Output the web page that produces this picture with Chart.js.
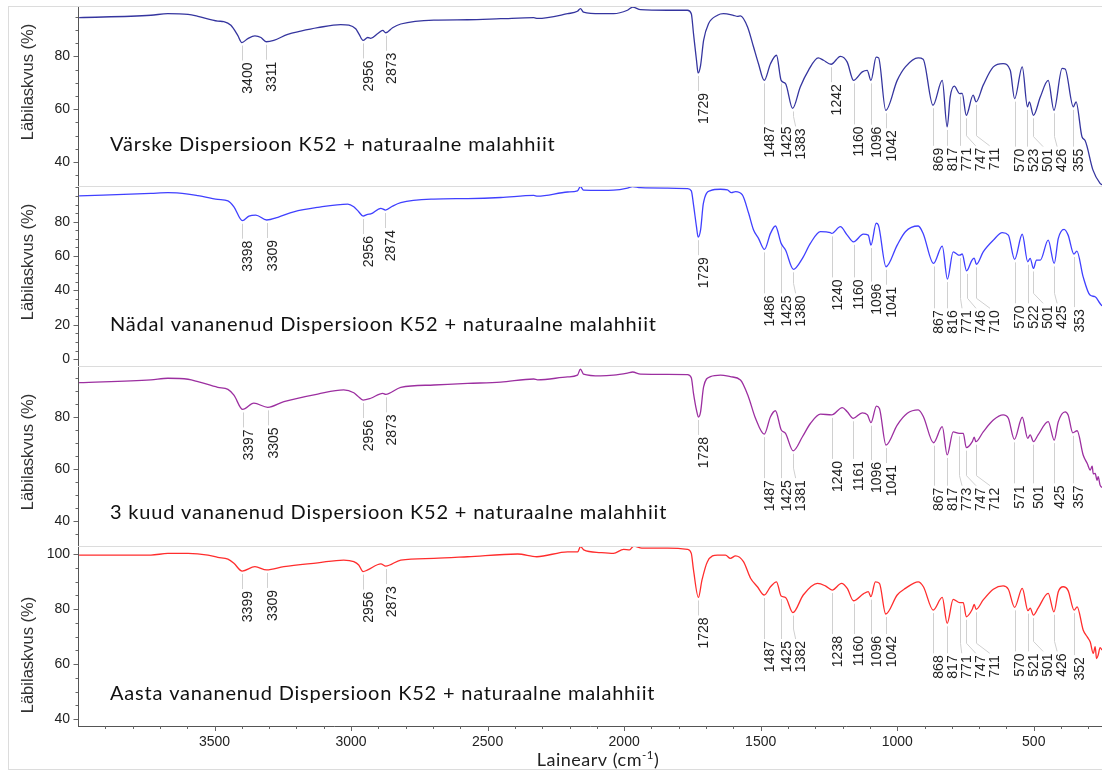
<!DOCTYPE html>
<html>
<head>
<meta charset="utf-8">
<title>FTIR – Dispersioon K52 + naturaalne malahhiit</title>
<script src="https://cdn.jsdelivr.net/npm/chart.js@4.4.1/dist/chart.umd.min.js"></script>
<style>
  html, body { margin: 0; padding: 0; background: #fff; }
  #wrap { position: relative; width: 1102px; height: 771px; overflow: hidden; }
  #frame { position: absolute; left: 8px; top: 6px; width: 1200px; height: 764px;
           box-sizing: border-box; border: 1px solid #dcdcdc; }
  canvas { position: absolute; left: 0; top: 0; }
</style>
</head>
<body>
<div id="wrap">
  <div id="frame"></div>
  <canvas id="p0" width="1102" height="771"></canvas>
  <canvas id="p1" width="1102" height="771"></canvas>
  <canvas id="p2" width="1102" height="771"></canvas>
  <canvas id="p3" width="1102" height="771"></canvas>
</div>
<script>
// ---- tick labels ----
const wavenumberTicks = [3500, 3000, 2500, 2000, 1500, 1000, 500];
const freshTicks  = [40, 60, 80];
const weekTicks   = [0, 20, 40, 60, 80];
const monthsTicks = [40, 60, 80];
const yearTicks   = [40, 60, 80, 100];

// ---- sample names ----
const sampleTitles = [
  'Värske Dispersioon K52 + naturaalne malahhiit',
  'Nädal vananenud Dispersioon K52 + naturaalne malahhiit',
  '3 kuud vananenud Dispersioon K52 + naturaalne malahhiit',
  'Aasta vananenud Dispersioon K52 + naturaalne malahhiit'
];

// ---- spectra: [wavenumber cm-1, transmittance %] ----
const freshSpectrum = [[3996,94.6],[3733,95.5],[3671,96.1],[3597,95.8],[3561,95.1],[3488,93.3],[3466,93.1],[3440,91.7],[3415,87.9],[3400,85.2],[3378,86.7],[3352,87.7],[3330,87.1],[3311,85.5],[3283,86.0],[3232,88.3],[3184,89.5],[3122,90.8],[3038,92.0],[3008,91.8],[2983,90.4],[2972,88.6],[2956,86.0],[2939,87.1],[2928,86.8],[2902,88.6],[2884,89.8],[2873,88.9],[2848,90.8],[2818,92.2],[2697,93.7],[2573,93.8],[2452,94.2],[2331,94.6],[2317,94.3],[2207,96.1],[2171,97.0],[2160,98.0],[2149,96.7],[2086,96.1],[2039,96.1],[1988,97.4],[1969,98.6],[1940,97.6],[1841,97.4],[1768,97.4],[1754,96.1],[1746,88.6],[1735,78.5],[1729,73.7],[1720,76.6],[1709,86.0],[1691,92.3],[1658,95.5],[1636,96.1],[1600,95.5],[1585,95.1],[1574,95.3],[1548,91.1],[1526,83.5],[1508,77.2],[1487,70.9],[1464,77.2],[1442,80.4],[1425,70.9],[1409,69.7],[1383,60.3],[1355,68.4],[1325,74.7],[1289,79.4],[1270,78.5],[1242,77.0],[1208,80.0],[1183,77.8],[1160,70.9],[1128,74.1],[1110,74.7],[1096,70.9],[1077,79.7],[1068,79.4],[1042,59.6],[1000,70.9],[970,76.0],[923,79.4],[905,78.9],[869,61.5],[835,70.9],[817,53.3],[806,64.6],[791,68.7],[771,65.9],[762,66.0],[747,57.7],[722,65.3],[711,62.8],[685,69.1],[648,76.0],[612,77.2],[586,74.7],[570,64.0],[542,76.0],[523,60.9],[516,62.8],[501,57.7],[476,64.6],[447,70.9],[426,59.6],[396,75.4],[385,75.2],[355,60.9],[345,62.8],[323,49.5],[312,48.2],[283,37.0],[257,32.0],[250,31.5]];

const weekSpectrum = [[3996,95.0],[3733,96.5],[3671,96.9],[3597,96.1],[3561,95.2],[3488,93.0],[3451,92.2],[3429,88.7],[3398,80.6],[3374,83.3],[3349,83.9],[3309,81.0],[3268,82.6],[3210,85.8],[3122,88.4],[3012,90.3],[2990,88.7],[2972,85.8],[2956,83.3],[2939,84.3],[2928,84.5],[2891,87.8],[2874,86.8],[2848,89.1],[2818,91.1],[2697,93.2],[2573,93.5],[2452,94.1],[2331,95.3],[2317,94.9],[2207,97.3],[2171,98.0],[2160,100.5],[2149,98.4],[2086,98.3],[2039,98.4],[1988,99.6],[1969,100.5],[1940,99.8],[1841,99.6],[1768,99.3],[1754,98.0],[1746,90.0],[1735,77.0],[1729,71.0],[1720,75.2],[1710,90.5],[1684,98.1],[1647,98.9],[1622,98.5],[1607,96.9],[1592,97.5],[1567,95.6],[1544,84.9],[1526,75.2],[1508,70.3],[1486,63.9],[1464,73.2],[1446,77.5],[1425,67.4],[1409,63.5],[1380,52.3],[1347,58.7],[1318,67.4],[1281,74.2],[1245,73.6],[1240,73.2],[1208,77.1],[1183,72.2],[1160,68.3],[1124,72.8],[1106,72.2],[1096,66.4],[1077,79.1],[1069,78.1],[1041,53.8],[1000,66.4],[970,74.2],[923,77.5],[905,73.2],[867,55.7],[835,65.8],[816,46.6],[795,62.5],[776,60.6],[771,60.5],[762,61.2],[746,51.4],[726,57.7],[718,58.8],[710,55.2],[685,62.5],[648,69.3],[615,73.6],[593,72.2],[570,58.1],[542,72.7],[522,56.7],[513,58.7],[501,52.8],[490,57.7],[476,57.7],[447,69.3],[425,55.7],[410,70.3],[389,75.6],[374,72.2],[353,61.2],[342,62.9],[319,47.9],[294,37.3],[275,36.3],[257,32.4],[250,31.0]];

const monthsSpectrum = [[3996,93.1],[3733,94.2],[3671,94.8],[3597,94.4],[3561,93.5],[3488,91.3],[3451,90.5],[3429,88.3],[3397,82.8],[3356,85.2],[3305,83.6],[3246,85.8],[3122,88.7],[3027,90.3],[2990,89.2],[2976,88.0],[2956,86.4],[2928,87.1],[2884,89.0],[2873,88.6],[2818,91.3],[2697,92.2],[2573,92.8],[2452,93.3],[2331,94.5],[2317,94.2],[2207,95.3],[2171,96.0],[2160,98.3],[2149,96.4],[2086,95.7],[2039,96.0],[1988,96.8],[1969,97.2],[1940,96.4],[1841,96.3],[1768,96.2],[1754,95.0],[1746,89.0],[1735,82.5],[1728,79.9],[1720,81.9],[1709,91.5],[1684,95.4],[1647,96.0],[1611,95.4],[1574,94.1],[1545,87.7],[1519,79.4],[1487,73.3],[1464,80.0],[1446,82.3],[1425,75.0],[1409,73.6],[1381,66.9],[1347,72.3],[1318,77.4],[1281,81.0],[1240,80.7],[1201,83.5],[1183,81.9],[1161,79.4],[1128,81.5],[1109,80.7],[1096,77.7],[1076,84.1],[1065,83.2],[1041,69.1],[1000,76.8],[963,81.3],[923,82.6],[904,80.0],[867,70.0],[835,76.2],[817,65.3],[795,74.2],[773,73.6],[758,73.6],[747,68.1],[725,70.4],[718,72.1],[712,70.4],[685,74.2],[648,78.7],[612,80.7],[593,79.4],[571,71.3],[542,79.8],[522,71.7],[513,73.0],[501,70.4],[484,73.0],[447,78.1],[425,71.0],[410,78.1],[385,81.9],[374,80.7],[357,73.8],[341,74.6],[319,65.3],[304,62.0],[293,59.5],[286,61.0],[282,58.0],[275,58.2],[268,55.5],[264,57.0],[257,53.7],[250,52.8]];

const yearSpectrum = [[3996,99.6],[3733,99.6],[3671,100.2],[3597,100.2],[3524,99.6],[3488,98.8],[3451,98.1],[3429,96.6],[3399,93.8],[3352,95.4],[3309,94.2],[3246,95.4],[3122,96.8],[3027,97.8],[2990,97.2],[2972,96.0],[2956,93.6],[2939,94.2],[2891,96.4],[2873,95.6],[2818,97.8],[2697,98.4],[2573,99.0],[2390,100.0],[2320,99.0],[2207,100.8],[2170,100.8],[2160,102.7],[2148,101.5],[2086,100.5],[2039,100.2],[2002,101.7],[1980,101.5],[1965,102.9],[1935,102.1],[1841,102.1],[1768,101.7],[1754,100.2],[1746,94.2],[1728,84.2],[1715,90.5],[1695,97.2],[1658,99.6],[1629,99.6],[1611,98.4],[1592,99.3],[1563,97.2],[1537,91.2],[1512,88.1],[1487,85.1],[1464,88.1],[1442,89.9],[1425,84.7],[1409,84.2],[1382,78.7],[1344,85.1],[1292,89.3],[1263,88.4],[1238,86.9],[1204,89.3],[1183,87.5],[1160,83.0],[1124,85.5],[1106,86.3],[1096,84.5],[1080,89.9],[1065,89.3],[1042,78.2],[1000,85.1],[970,87.5],[923,89.9],[904,88.1],[868,79.6],[835,84.2],[817,74.8],[795,83.5],[771,82.3],[758,82.3],[747,77.2],[725,79.9],[718,81.7],[711,79.9],[685,83.3],[648,87.2],[612,88.4],[593,87.2],[570,80.6],[542,87.5],[521,79.4],[513,80.3],[501,77.8],[484,80.3],[447,85.7],[426,79.0],[410,86.3],[392,88.1],[374,86.7],[352,79.6],[341,80.8],[319,72.4],[304,69.9],[293,68.0],[282,63.9],[275,66.3],[270,62.0],[264,63.3],[257,66.0],[250,65.1]];

// ---- assigned band positions (cm-1) ----
const freshPeaks  = [3400, 3311, 2956, 2873, 1729, 1487, 1425, 1383, 1242, 1160, 1096, 1042, 869, 817, 771, 747, 711, 570, 523, 501, 426, 355];
const weekPeaks   = [3398, 3309, 2956, 2874, 1729, 1486, 1425, 1380, 1240, 1160, 1096, 1041, 867, 816, 771, 746, 710, 570, 522, 501, 425, 353];
const monthsPeaks = [3397, 3305, 2956, 2873, 1728, 1487, 1425, 1381, 1240, 1161, 1096, 1041, 867, 817, 773, 747, 712, 571, 501, 425, 357];
const yearPeaks   = [3399, 3309, 2956, 2873, 1728, 1487, 1425, 1382, 1238, 1160, 1096, 1042, 868, 817, 771, 747, 711, 570, 521, 501, 426, 352];

// ---- page layout and styling ----
const W = 1102, H = 771, AXIS_LEFT = 78, X_AXIS_H = 45;
const SANS = "'Liberation Sans', Arial, sans-serif";
const LABEL_FONT = "14px " + SANS;
const TITLE_FONT = "20px Lato, 'Open Sans', sans-serif";
const panels = [
  { id: 'p0', top: 6,   bottom: 186, min: 31,   max: 99,    color: '#35359f', series: freshSpectrum,  peaks: freshPeaks,  ticks: freshTicks,  title: sampleTitles[0], titleBase: 151, yTitleMid: 82 },
  { id: 'p1', top: 186, bottom: 366, min: -4,   max: 100.8, color: '#4040ff', series: weekSpectrum,   peaks: weekPeaks,   ticks: weekTicks,   title: sampleTitles[1], titleBase: 331, yTitleMid: 262 },
  { id: 'p2', top: 366, bottom: 546, min: 30.3, max: 99.5,  color: '#9c2fa0', series: monthsSpectrum, peaks: monthsPeaks, ticks: monthsTicks, title: sampleTitles[2], titleBase: 519, yTitleMid: 452 },
  { id: 'p3', top: 546, bottom: 726, min: 37.5, max: 102.9, color: '#ff2d2d', series: yearSpectrum,   peaks: yearPeaks,   ticks: yearTicks,   title: sampleTitles[3], titleBase: 700, yTitleMid: 655 }
];

// linear read-out of a spectrum at a given wavenumber
function valueAt(series, wn) {
  for (let i = 0; i < series.length - 1; i++) {
    const [x0, y0] = series[i], [x1, y1] = series[i + 1];
    if (wn <= x0 && wn >= x1) {
      const t = (x0 - wn) / ((x0 - x1) || 1);
      return y0 + t * (y1 - y0);
    }
  }
  return wn > series[0][0] ? series[0][1] : series[series.length - 1][1];
}

// band labels: rotated numbers hanging under each band with grey leader lines
function drawPeakLabels(chart, panel) {
  const { ctx, chartArea } = chart;
  const xs = chart.scales.x, ys = chart.scales.y;
  const curveY = px => ys.getPixelForValue(valueAt(panel.series, xs.getValueForPixel(px)));
  ctx.save();
  ctx.font = LABEL_FONT;
  const items = panel.peaks.map(wn => ({
    text: String(wn),
    len: ctx.measureText(String(wn)).width,
    px: xs.getPixelForValue(wn),
    py: ys.getPixelForValue(valueAt(panel.series, wn))
  })).sort((a, b) => a.px - b.px);

  // spread labels to the right so neighbours do not collide
  let prev = -Infinity;
  items.forEach(it => { it.tx = Math.max(it.px + 6, prev + 14); prev = it.tx; });

  // hang each label clear of the curve underneath it
  items.forEach(it => {
    let low = -Infinity;
    for (let x = Math.min(it.px, it.tx - 9); x <= it.tx + 9; x++) low = Math.max(low, curveY(x));
    it.top = Math.max(it.py + 20, low + 17);
  });

  // crowded groups drop to a common depth
  const groups = [];
  items.forEach((it, i) => {
    if (i && it.tx - items[i - 1].tx < 22) groups[groups.length - 1].push(it);
    else groups.push([it]);
  });
  groups.forEach(g => {
    if (g.length < 2) return;
    const depth = Math.min(...g.map(it => it.top)) + 26;
    g.forEach(it => { it.top = Math.max(it.top, depth); });
  });

  items.forEach(it => {
    it.top = Math.min(it.top, chartArea.bottom - 14 - it.len);

    const ex = it.tx - 6;
    ctx.strokeStyle = '#d0d0d0';
    ctx.lineWidth = 1;
    ctx.beginPath();
    ctx.moveTo(Math.round(it.px) + 0.5, it.py + 3);
    if (Math.abs(ex - it.px) > 1.5) {
      ctx.lineTo(Math.round(it.px) + 0.5, Math.max(it.py + 3, it.top - 12));
      ctx.lineTo(ex + 0.5, it.top - 2);
    } else {
      ctx.lineTo(Math.round(it.px) + 0.5, it.top - 2);
    }
    ctx.stroke();

    ctx.save();
    ctx.translate(it.tx, it.top);
    ctx.rotate(-Math.PI / 2);
    ctx.textAlign = 'right';
    ctx.textBaseline = 'middle';
    ctx.fillStyle = '#222';
    ctx.fillText(it.text, 0, 0);
    ctx.restore();
  });
  ctx.restore();
}

const panelDecor = {
  id: 'panelDecor',
  afterDraw(chart, args, opts) {
    const panel = opts.panel;
    const { ctx, chartArea } = chart;
    const xs = chart.scales.x, ys = chart.scales.y;
    ctx.save();

    // separator along the top of the panel
    ctx.strokeStyle = '#dcdcdc';
    ctx.lineWidth = 1;
    ctx.beginPath();
    ctx.moveTo(chartArea.left, chartArea.top + 0.5);
    ctx.lineTo(chartArea.right, chartArea.top + 0.5);
    ctx.stroke();

    // y tick marks: long at labelled values, short every 5 %
    ctx.strokeStyle = '#666';
    ctx.beginPath();
    for (let v = Math.ceil(panel.min / 5) * 5; v <= panel.max; v += 5) {
      const y = Math.round(ys.getPixelForValue(v)) + 0.5;
      const len = panel.ticks.includes(v) ? 4.5 : 2.5;
      ctx.moveTo(chartArea.left - len, y);
      ctx.lineTo(chartArea.left, y);
    }
    // x tick marks on the bottom panel
    if (opts.last) {
      for (let v = 300; v <= 3900; v += 100) {
        const x = Math.round(xs.getPixelForValue(v)) + 0.5;
        const len = v % 500 === 0 ? 5 : 3;
        ctx.moveTo(x, chartArea.bottom);
        ctx.lineTo(x, chartArea.bottom + len);
      }
    }
    ctx.stroke();

    // sample name inside the panel
    ctx.fillStyle = '#111';
    ctx.font = TITLE_FONT;
    ctx.letterSpacing = '0.8px';
    ctx.textAlign = 'left';
    ctx.textBaseline = 'alphabetic';
    ctx.fillText(panel.title, 110, panel.titleBase);
    ctx.letterSpacing = '0px';

    // y axis title
    ctx.save();
    ctx.translate(28, panel.yTitleMid);
    ctx.rotate(-Math.PI / 2);
    ctx.font = "16.5px " + SANS;
    ctx.fillStyle = '#333';
    ctx.textAlign = 'center';
    ctx.textBaseline = 'middle';
    ctx.fillText('Läbilaskvus (%)', 0, 0);
    ctx.restore();

    // x axis title with superscript
    if (opts.last) {
      const main = '18px Lato, sans-serif', sup = '11.5px Lato, sans-serif';
      ctx.textBaseline = 'alphabetic';
      ctx.textAlign = 'left';
      ctx.letterSpacing = '0.5px';
      ctx.font = main;
      const a = 'Lainearv (cm', c = ')';
      const wa = ctx.measureText(a).width, wc = ctx.measureText(c).width;
      ctx.font = sup;
      const wb = ctx.measureText('-1').width;
      let x = 598 - (wa + wb + wc) / 2;
      const base = 766;
      ctx.fillStyle = '#222';
      ctx.font = main; ctx.fillText(a, x, base); x += wa;
      ctx.font = sup;  ctx.fillText('-1', x, base - 7); x += wb;
      ctx.font = main; ctx.fillText(c, x, base);
      ctx.letterSpacing = '0px';
    }

    drawPeakLabels(chart, panel);
    ctx.restore();
  }
};

panels.forEach((panel, i) => {
  const last = i === panels.length - 1;
  const xScale = {
    type: 'linear',
    reverse: true,
    min: 250,
    max: 4000,
    display: last,
    afterBuildTicks: s => { s.ticks = wavenumberTicks.map(v => ({ value: v })); },
    grid: { display: false, drawTicks: false },
    border: { display: true, color: '#555', width: 1 },
    ticks: { padding: 8, color: '#222', font: { family: SANS, size: 14 }, callback: v => String(v), maxRotation: 0, autoSkip: false }
  };
  if (last) xScale.afterFit = s => { s.height = X_AXIS_H; s.paddingLeft = 0; s.paddingRight = 0; };

  new Chart(document.getElementById(panel.id), {
    type: 'line',
    data: {
      datasets: [{
        data: panel.series.map(([x, y]) => ({ x, y })),
        borderColor: panel.color,
        borderWidth: 1.3,
        pointRadius: 0,
        fill: false,
        cubicInterpolationMode: 'monotone'
      }]
    },
    options: {
      responsive: false,
      animation: false,
      devicePixelRatio: 1,
      events: [],
      layout: { padding: { top: panel.top, bottom: last ? 0 : H - panel.bottom, left: 0, right: 0 } },
      plugins: {
        legend: { display: false },
        tooltip: { enabled: false },
        panelDecor: { panel, last }
      },
      scales: {
        x: xScale,
        y: {
          min: panel.min,
          max: panel.max,
          afterFit: s => { s.width = AXIS_LEFT; s.paddingTop = 0; s.paddingBottom = 0; },
          afterBuildTicks: s => { s.ticks = panel.ticks.map(v => ({ value: v })); },
          grid: { display: false, drawTicks: false },
          border: { display: true, color: '#555', width: 1 },
          ticks: { padding: 8, color: '#222', font: { family: SANS, size: 14 }, callback: v => String(v) }
        }
      }
    },
    plugins: [panelDecor]
  });
});
</script>
</body>
</html>
